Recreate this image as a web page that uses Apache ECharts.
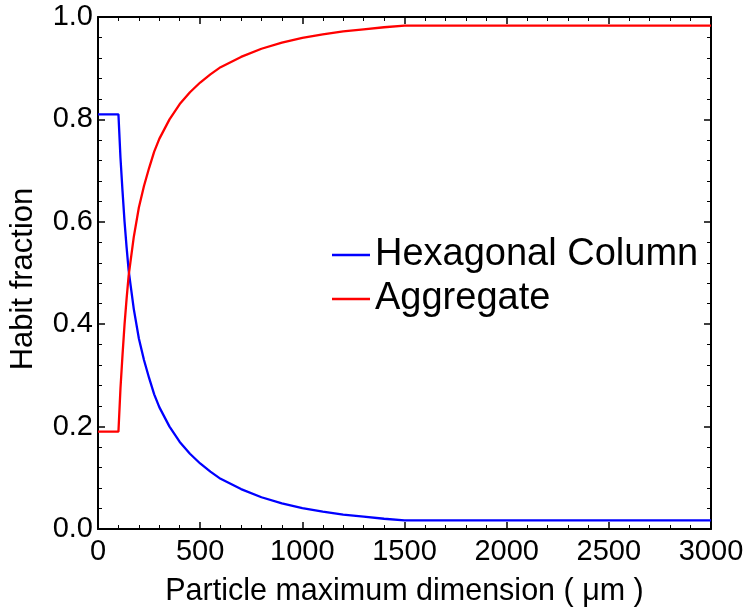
<!DOCTYPE html>
<html>
<head>
<meta charset="utf-8">
<title>Habit fraction</title>
<script src="https://cdn.jsdelivr.net/npm/echarts@6/dist/echarts.min.js"></script>
<style>
  html, body { margin: 0; padding: 0; background: #fff; }
  #chart { width: 750px; height: 616px; }
</style>
</head>
<body>
<div id="chart"></div>
<script>
// particle maximum dimension (um)
var sizes = [0, 100, 110, 120, 130, 140, 150, 160, 175, 200, 225, 250, 275, 300, 350, 400,
  450, 500, 550, 600, 700, 800, 900, 1000, 1100, 1200, 1300, 1400, 1500, 3000];
var hexColumn = [0.81, 0.81, 0.725, 0.66, 0.60, 0.55, 0.505, 0.475, 0.43, 0.372, 0.33, 0.295, 0.263, 0.238, 0.200, 0.170,
  0.147, 0.128, 0.112, 0.098, 0.078, 0.062, 0.050, 0.041, 0.034, 0.028, 0.024, 0.020, 0.017, 0.017];
var aggregate = [0.19, 0.19, 0.275, 0.34, 0.40, 0.45, 0.495, 0.525, 0.57, 0.628, 0.67, 0.705, 0.737, 0.762, 0.800, 0.830,
  0.853, 0.872, 0.888, 0.902, 0.922, 0.938, 0.950, 0.959, 0.966, 0.972, 0.976, 0.980, 0.983, 0.983];
var seriesNames = ['Hexagonal Column', 'Aggregate'];
var xTitle = 'Particle maximum dimension ( \u03bcm )';
var yTitle = 'Habit fraction';

var font = 'Liberation Sans, Arial, Helvetica, sans-serif';

function pairs(xs, ys) {
  return xs.map(function (x, i) { return [x, ys[i]]; });
}

// common look of the four box sides
function side(extra) {
  var base = {
    axisLine: { show: true, onZero: false, lineStyle: { color: '#000', width: 2 } },
    axisTick: { show: true, inside: true, length: 7, lineStyle: { color: '#000', width: 1.5 } },
    minorTick: { show: true, splitNumber: 5, length: 4, lineStyle: { color: '#000', width: 1 } },
    splitLine: { show: false },
    minorSplitLine: { show: false }
  };
  return Object.assign(base, extra);
}

var myChart = echarts.init(document.getElementById('chart'));

var option = {
  animation: false,
  color: ['#0000ff', '#ff0000'],
  grid: { left: 95, right: 39, top: 17, bottom: 87, containLabel: false },
  legend: {
    data: seriesNames,
    orient: 'vertical',
    left: 327,
    top: 230,
    icon: 'rect',
    itemWidth: 38,
    itemHeight: 2.5,
    itemGap: 4,
    textStyle: { fontFamily: font, fontSize: 38, color: '#000', lineHeight: 40 }
  },
  xAxis: [
    side({
      type: 'value', position: 'bottom', min: 0, max: 3000, interval: 500,
      name: xTitle, nameLocation: 'middle', nameGap: 47,
      nameTextStyle: { fontFamily: font, fontSize: 30.5, color: '#000' },
      axisLabel: {
        show: true, margin: 8, fontFamily: font, fontSize: 29, color: '#000',
        formatter: function (v) { return String(v); }
      }
    }),
    side({
      type: 'value', position: 'top', min: 0, max: 3000, interval: 500,
      axisLabel: { show: false }
    })
  ],
  yAxis: [
    side({
      type: 'value', position: 'left', min: 0, max: 1, interval: 0.2,
      name: yTitle, nameLocation: 'middle', nameGap: 59,
      nameTextStyle: { fontFamily: font, fontSize: 31, color: '#000', padding: [0, 12, 0, 0] },
      axisLabel: {
        show: true, margin: 5, fontFamily: font, fontSize: 29, color: '#000',
        formatter: function (v) { return v.toFixed(1); }
      }
    }),
    side({
      type: 'value', position: 'right', min: 0, max: 1, interval: 0.2,
      axisLabel: { show: false }
    })
  ],
  series: [
    {
      name: seriesNames[0],
      type: 'line',
      showSymbol: false,
      lineStyle: { width: 2.3 },
      data: pairs(sizes, hexColumn)
    },
    {
      name: seriesNames[1],
      type: 'line',
      showSymbol: false,
      lineStyle: { width: 2.3 },
      data: pairs(sizes, aggregate)
    }
  ]
};

myChart.setOption(option);
</script>
</body>
</html>
